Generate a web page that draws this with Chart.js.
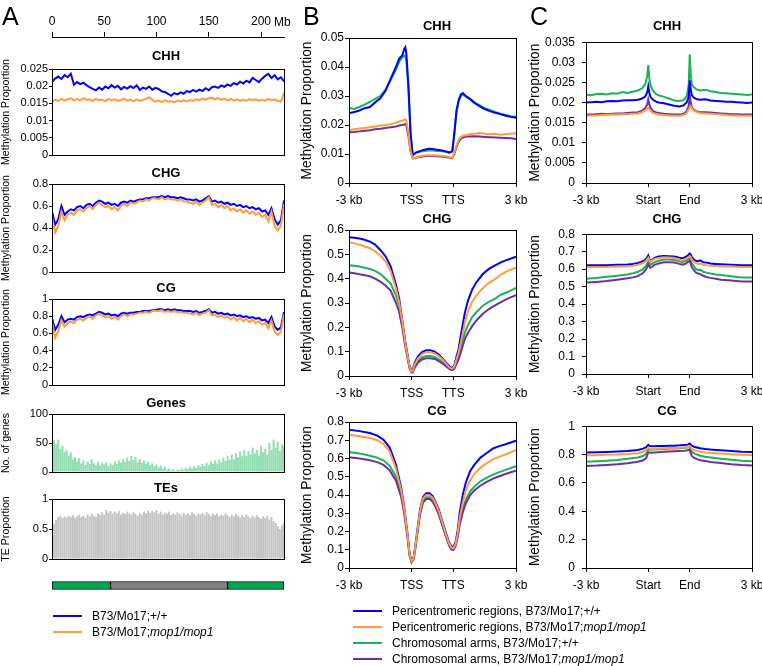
<!DOCTYPE html>
<html>
<head>
<meta charset="utf-8">
<title>DNA methylation profiles</title>
<script src="https://cdn.jsdelivr.net/npm/chart.js@4.4.1/dist/chart.umd.min.js"></script>
<style>
  html, body { margin: 0; padding: 0; background: #fff; }
  #fig { position: relative; width: 762px; height: 666px; overflow: hidden; font-family: "Liberation Sans", Arial, Helvetica, sans-serif; color: #000; }
  #fig canvas { position: absolute; }
  .panel { position: absolute; font-size: 25px; line-height: 25px; z-index: 2; }
  .ttl { position: absolute; font-size: 13px; font-weight: bold; line-height: 15px; white-space: nowrap; transform: translate(-50%, -50%); z-index: 2; }
  .unit { position: absolute; font-size: 12px; line-height: 14px; z-index: 2; }
  .leg { position: absolute; font-size: 12px; line-height: 14px; white-space: nowrap; z-index: 2; }
  .sw { position: absolute; width: 29px; height: 2px; z-index: 2; }
</style>
</head>
<body>
<div id="fig">
  <div class="panel" style="left:2px;top:4px">A</div>
  <div class="panel" style="left:303px;top:4px">B</div>
  <div class="panel" style="left:530px;top:4px">C</div>
  <div class="unit" style="left:274px;top:15px">Mb</div>

  <div class="ttl" style="left:166px;top:55px">CHH</div>
  <div class="ttl" style="left:166px;top:172px">CHG</div>
  <div class="ttl" style="left:166px;top:287px">CG</div>
  <div class="ttl" style="left:166px;top:402px">Genes</div>
  <div class="ttl" style="left:166px;top:487px">TEs</div>

  <div class="ttl" style="left:437px;top:25px">CHH</div>
  <div class="ttl" style="left:437px;top:218px">CHG</div>
  <div class="ttl" style="left:437px;top:410px">CG</div>

  <div class="ttl" style="left:667px;top:25px">CHH</div>
  <div class="ttl" style="left:667px;top:218px">CHG</div>
  <div class="ttl" style="left:667px;top:410px">CG</div>

  <div class="sw" style="left:53px;top:615px;background:#0000ff"></div>
  <div class="leg" style="left:92px;top:609px">B73/Mo17;+/+</div>
  <div class="sw" style="left:53px;top:631px;background:#ff9d3c"></div>
  <div class="leg" style="left:92px;top:625px">B73/Mo17;<i>mop1/mop1</i></div>

  <div class="sw" style="left:353px;top:610px;background:#0000ff"></div>
  <div class="leg" style="left:392px;top:604px">Pericentromeric regions, B73/Mo17;+/+</div>
  <div class="sw" style="left:353px;top:626px;background:#ff9d3c"></div>
  <div class="leg" style="left:392px;top:620px">Pericentromeric regions, B73/Mo17;<i>mop1/mop1</i></div>
  <div class="sw" style="left:353px;top:642px;background:#1db259"></div>
  <div class="leg" style="left:392px;top:636px">Chromosomal arms, B73/Mo17;+/+</div>
  <div class="sw" style="left:353px;top:658px;background:#7030a0"></div>
  <div class="leg" style="left:392px;top:652px">Chromosomal arms, B73/Mo17;<i>mop1/mop1</i></div>
</div>
<script>
// ---- panel A: chromosome position (Mb) ----
const mbTicks = [0, 50, 100, 150, 200];
const mbLabels = ['0', '50', '100', '150', '200'];

const posLine = [0,3,6,9,12,15,18,21,24,27,30,33,36,39,42,45,48,51,54,57,60,63,66,69,72,75,78,81,84,87,90,93,96,99,102,105,108,111,114,117,120,123,126,129,132,135,138,141,144,147,150,153,156,159,162,165,168,171,174,177,180,183,186,189,192,195,198,201,204,207,210,213,216,219,222];
const posBin = [0,2,4,6,8,10,12,14,16,18,20,22,24,26,28,30,32,34,36,38,40,42,44,46,48,50,52,54,56,58,60,62,64,66,68,70,72,74,76,78,80,82,84,86,88,90,92,94,96,98,100,102,104,106,108,110,112,114,116,118,120,122,124,126,128,130,132,134,136,138,140,142,144,146,148,150,152,154,156,158,160,162,164,166,168,170,172,174,176,178,180,182,184,186,188,190,192,194,196,198,200,202,204,206,208,210,212,214,216,218,220,222];

const aChhWt = [0.0212,0.0222,0.0228,0.0221,0.0232,0.0226,0.0236,0.0204,0.0212,0.0206,
  0.0210,0.0203,0.0197,0.0192,0.0188,0.0196,0.0190,0.0199,0.0194,0.0203,
  0.0196,0.0201,0.0191,0.0198,0.0193,0.0200,0.0195,0.0203,0.0189,0.0196,
  0.0192,0.0199,0.0190,0.0195,0.0192,0.0185,0.0183,0.0178,0.0172,0.0180,
  0.0176,0.0182,0.0178,0.0186,0.0183,0.0189,0.0184,0.0190,0.0186,0.0194,
  0.0188,0.0197,0.0199,0.0195,0.0202,0.0198,0.0205,0.0201,0.0209,0.0205,
  0.0213,0.0208,0.0216,0.0211,0.0224,0.0218,0.0212,0.0222,0.0230,0.0236,
  0.0224,0.0232,0.0220,0.0226,0.0214];
const aChhMop = [0.0155,0.0160,0.0157,0.0163,0.0158,0.0162,0.0165,0.0159,0.0163,0.0158,
  0.0165,0.0160,0.0162,0.0157,0.0164,0.0159,0.0161,0.0156,0.0163,0.0159,
  0.0162,0.0157,0.0160,0.0164,0.0158,0.0161,0.0156,0.0162,0.0158,0.0160,
  0.0163,0.0168,0.0160,0.0155,0.0158,0.0154,0.0159,0.0155,0.0157,0.0153,
  0.0158,0.0155,0.0159,0.0156,0.0160,0.0157,0.0162,0.0159,0.0164,0.0161,
  0.0165,0.0167,0.0162,0.0166,0.0160,0.0164,0.0159,0.0163,0.0158,0.0162,
  0.0157,0.0161,0.0158,0.0163,0.0159,0.0162,0.0157,0.0161,0.0158,0.0163,
  0.0159,0.0162,0.0157,0.0155,0.0180];
const aChgWt = [0.55,0.43,0.48,0.60,0.52,0.55,0.57,0.56,0.59,0.60,
  0.58,0.61,0.62,0.60,0.63,0.65,0.64,0.62,0.63,0.61,
  0.62,0.60,0.63,0.64,0.63,0.65,0.64,0.65,0.66,0.66,
  0.67,0.67,0.68,0.68,0.68,0.69,0.68,0.69,0.68,0.68,
  0.67,0.68,0.67,0.66,0.66,0.65,0.66,0.64,0.65,0.67,
  0.69,0.64,0.65,0.63,0.64,0.62,0.63,0.61,0.62,0.60,
  0.61,0.59,0.60,0.58,0.59,0.57,0.58,0.55,0.56,0.52,
  0.58,0.48,0.43,0.47,0.65];
const aChgMop = [0.50,0.36,0.42,0.55,0.47,0.52,0.54,0.52,0.56,0.57,
  0.55,0.58,0.60,0.57,0.61,0.63,0.61,0.59,0.60,0.57,
  0.59,0.56,0.60,0.62,0.60,0.63,0.62,0.63,0.65,0.64,
  0.66,0.65,0.67,0.67,0.66,0.68,0.66,0.67,0.66,0.66,
  0.65,0.66,0.64,0.64,0.63,0.62,0.64,0.61,0.63,0.65,
  0.68,0.61,0.62,0.59,0.61,0.58,0.60,0.56,0.58,0.55,
  0.57,0.54,0.56,0.53,0.55,0.52,0.54,0.50,0.52,0.46,
  0.55,0.42,0.38,0.42,0.62];
const aCgWt = [0.78,0.64,0.70,0.80,0.73,0.76,0.77,0.76,0.79,0.80,
  0.79,0.81,0.82,0.81,0.83,0.85,0.84,0.82,0.83,0.81,
  0.82,0.80,0.83,0.84,0.83,0.84,0.84,0.85,0.85,0.86,
  0.86,0.86,0.87,0.87,0.88,0.88,0.87,0.88,0.87,0.88,
  0.87,0.87,0.86,0.86,0.86,0.85,0.86,0.84,0.85,0.86,
  0.88,0.84,0.85,0.83,0.84,0.82,0.83,0.81,0.82,0.80,
  0.81,0.79,0.80,0.78,0.79,0.77,0.78,0.75,0.76,0.72,
  0.79,0.68,0.64,0.67,0.85];
const aCgMop = [0.73,0.55,0.63,0.75,0.68,0.72,0.74,0.72,0.76,0.77,
  0.75,0.78,0.80,0.77,0.81,0.83,0.81,0.79,0.80,0.77,
  0.79,0.76,0.80,0.82,0.80,0.82,0.82,0.83,0.84,0.84,
  0.85,0.84,0.86,0.86,0.86,0.87,0.85,0.86,0.85,0.86,
  0.85,0.85,0.84,0.84,0.83,0.82,0.84,0.81,0.83,0.84,
  0.87,0.81,0.82,0.79,0.81,0.78,0.80,0.76,0.79,0.75,
  0.78,0.74,0.77,0.73,0.76,0.72,0.74,0.70,0.72,0.66,
  0.75,0.62,0.58,0.62,0.82];
const geneCounts = [85,55,48,56,40,45,35,38,28,34,
  22,26,18,24,15,20,12,18,14,22,
  15,12,18,11,16,13,17,10,15,12,
  18,14,20,16,22,18,25,19,28,21,
  26,17,23,16,20,14,18,12,15,10,
  13,8,11,6,9,4,6,3,5,2,
  4,3,6,4,7,5,9,6,10,7,
  12,9,14,10,16,12,18,14,20,15,
  22,17,25,19,28,21,30,22,32,25,
  35,27,38,28,36,30,42,32,38,28,
  45,34,40,30,50,38,56,42,52,36,
  48,44];
const teProportion = [0.50,0.58,0.65,0.70,0.72,0.68,0.71,0.69,0.72,0.70,
  0.73,0.68,0.71,0.74,0.70,0.72,0.69,0.74,0.71,0.75,
  0.72,0.70,0.76,0.73,0.78,0.74,0.82,0.77,0.80,0.75,
  0.79,0.76,0.80,0.74,0.77,0.75,0.79,0.76,0.74,0.78,
  0.75,0.72,0.77,0.74,0.79,0.76,0.81,0.77,0.80,0.78,
  0.82,0.76,0.79,0.74,0.77,0.75,0.79,0.73,0.76,0.74,
  0.78,0.75,0.72,0.77,0.74,0.76,0.73,0.78,0.75,0.72,
  0.76,0.74,0.77,0.73,0.78,0.75,0.72,0.76,0.73,0.75,
  0.71,0.74,0.72,0.76,0.73,0.70,0.74,0.71,0.75,0.72,
  0.69,0.73,0.70,0.74,0.71,0.68,0.72,0.69,0.73,0.70,
  0.67,0.71,0.68,0.72,0.66,0.70,0.63,0.60,0.55,0.50,
  0.56,0.60];
const chromSegments = [[0, 56], [56, 168], [168, 222]];
const chromColors = ['#00a651', '#808080', '#00a651'];

// ---- panels B and C: 3 kb flank (60 bins) + body (40 bins) + 3 kb flank (60 bins) ----
const profileTicks = [0, 60, 100, 160];
const geneLabels = ['-3 kb', 'TSS', 'TTS', '3 kb'];
const teLabels = ['-3 kb', 'Start', 'End', '3 kb'];

const posBChh = [0,5,10,15,20,25,30,35,40,45,48,51,53,54,55,57,59,61,64,68,72,76,80,84,88,92,96,99,101,103,105,107,109,112,116,120,125,130,135,140,145,150,155,160];
const bChhPeriWt = [0.0240,0.0245,0.0250,0.0258,0.0262,0.0278,0.0292,0.0318,0.0360,0.0400,
  0.0428,0.0440,0.0462,0.0468,0.0445,0.0330,0.0170,0.0095,
  0.0105,0.0110,0.0115,0.0118,0.0117,0.0115,0.0113,0.0110,0.0105,0.0110,
  0.0175,0.0250,0.0285,0.0305,0.0310,0.0300,0.0290,0.0278,
  0.0265,0.0255,0.0248,0.0242,0.0238,0.0232,0.0228,0.0225];
const bChhPeriMop = [0.0182,0.0185,0.0188,0.0190,0.0192,0.0195,0.0198,0.0200,0.0203,0.0208,
  0.0212,0.0215,0.0218,0.0220,0.0215,0.0170,0.0110,0.0085,
  0.0088,0.0092,0.0095,0.0096,0.0096,0.0095,0.0094,0.0092,0.0090,0.0087,
  0.0105,0.0130,0.0148,0.0158,0.0163,0.0165,0.0168,0.0170,
  0.0172,0.0170,0.0168,0.0170,0.0166,0.0168,0.0170,0.0172];
const bChhArmWt = [0.0260,0.0255,0.0262,0.0270,0.0280,0.0290,0.0300,0.0322,0.0355,0.0392,
  0.0418,0.0432,0.0440,0.0438,0.0420,0.0320,0.0165,0.0098,
  0.0103,0.0108,0.0110,0.0112,0.0112,0.0110,0.0110,0.0108,0.0105,0.0108,
  0.0170,0.0245,0.0280,0.0298,0.0305,0.0298,0.0288,0.0275,
  0.0268,0.0258,0.0252,0.0245,0.0238,0.0235,0.0230,0.0228];
const bChhArmMop = [0.0175,0.0176,0.0178,0.0180,0.0182,0.0185,0.0187,0.0190,0.0192,0.0195,
  0.0198,0.0200,0.0202,0.0203,0.0198,0.0160,0.0108,0.0085,
  0.0087,0.0090,0.0092,0.0093,0.0093,0.0092,0.0091,0.0090,0.0088,0.0086,
  0.0100,0.0125,0.0142,0.0152,0.0157,0.0160,0.0160,0.0161,
  0.0160,0.0159,0.0158,0.0157,0.0156,0.0155,0.0154,0.0152];

const posBChg = [0,5,10,15,20,25,30,35,40,45,48,51,54,56,58,60,61,63,66,70,74,78,82,86,90,94,97,99,101,103,105,108,111,114,118,122,128,134,140,146,152,160];
const bChgPeriWt = [0.570,0.568,0.565,0.560,0.552,0.540,0.518,0.492,0.450,0.375,
  0.320,0.230,0.140,0.090,0.040,0.024,0.025,0.055,0.080,
  0.098,0.106,0.106,0.100,0.088,0.070,0.050,0.036,0.033,
  0.045,0.080,0.110,0.188,0.260,0.310,0.355,0.385,
  0.418,0.440,0.455,0.468,0.478,0.490];
const bChgPeriMop = [0.550,0.545,0.540,0.532,0.525,0.512,0.495,0.470,0.430,0.360,
  0.305,0.225,0.135,0.085,0.038,0.018,0.020,0.048,0.072,
  0.090,0.098,0.098,0.093,0.082,0.066,0.046,0.032,0.030,
  0.040,0.070,0.095,0.155,0.220,0.265,0.305,0.330,
  0.360,0.383,0.398,0.418,0.432,0.445];
const bChgArmWt = [0.455,0.453,0.450,0.445,0.440,0.432,0.420,0.400,0.380,0.330,
  0.290,0.215,0.130,0.082,0.035,0.018,0.019,0.040,0.062,
  0.076,0.082,0.082,0.078,0.068,0.055,0.040,0.029,0.027,
  0.035,0.060,0.082,0.130,0.178,0.210,0.242,0.262,
  0.288,0.305,0.318,0.335,0.345,0.362];
const bChgArmMop = [0.425,0.422,0.418,0.414,0.410,0.400,0.388,0.372,0.350,0.300,
  0.265,0.200,0.120,0.076,0.032,0.014,0.015,0.035,0.055,
  0.068,0.073,0.073,0.070,0.061,0.050,0.036,0.026,0.024,
  0.030,0.050,0.068,0.110,0.152,0.178,0.205,0.228,
  0.255,0.275,0.290,0.305,0.318,0.332];

const posBCg = [0,10,20,27,33,39,45,50,53,56,58,60,62,64,68,71,74,77,80,83,86,90,93,96,98,100,102,104,106,109,112,116,120,126,132,138,144,150,155,160];
const bCgPeriWt = [0.758,0.750,0.740,0.725,0.703,0.660,0.565,0.440,0.330,0.190,
  0.080,0.040,0.060,0.140,0.320,0.390,0.410,0.410,0.395,0.360,
  0.320,0.245,0.190,0.140,0.118,0.115,0.140,0.200,0.300,0.400,
  0.470,0.530,0.565,0.605,0.630,0.655,0.668,0.678,0.688,0.698];
const bCgPeriMop = [0.730,0.722,0.712,0.700,0.680,0.638,0.545,0.425,0.320,0.185,
  0.075,0.036,0.055,0.135,0.312,0.382,0.400,0.400,0.386,0.352,
  0.312,0.238,0.182,0.133,0.112,0.108,0.130,0.185,0.270,0.360,
  0.425,0.480,0.515,0.550,0.575,0.595,0.610,0.622,0.635,0.645];
const bCgArmWt = [0.635,0.628,0.615,0.605,0.590,0.560,0.500,0.405,0.305,0.178,
  0.072,0.035,0.053,0.130,0.300,0.370,0.388,0.388,0.375,0.342,
  0.302,0.230,0.176,0.128,0.108,0.105,0.125,0.175,0.250,0.325,
  0.375,0.420,0.445,0.475,0.495,0.512,0.525,0.538,0.548,0.558];
const bCgArmMop = [0.607,0.600,0.590,0.580,0.565,0.535,0.478,0.388,0.295,0.170,
  0.068,0.030,0.048,0.125,0.292,0.360,0.378,0.378,0.365,0.333,
  0.293,0.222,0.170,0.122,0.102,0.098,0.118,0.165,0.235,0.305,
  0.355,0.398,0.425,0.452,0.472,0.490,0.503,0.515,0.525,0.533];

const posCChh = [0,5,10,15,20,25,30,35,40,45,50,54,57,59,60,61,62,64,67,70,75,80,85,90,94,97,99,100,101,102,104,107,110,115,120,125,130,135,140,145,150,155,160];
const cChhPeriWt = [0.0200,0.0201,0.0202,0.0201,0.0203,0.0204,0.0203,0.0205,0.0206,0.0206,
  0.0207,0.0210,0.0215,0.0225,0.0240,0.0225,0.0215,0.0208,0.0203,0.0200,
  0.0198,0.0195,0.0192,0.0190,0.0193,0.0200,0.0215,0.0255,0.0232,0.0218,
  0.0212,0.0208,0.0207,0.0208,0.0205,0.0204,0.0203,0.0202,0.0202,0.0201,
  0.0200,0.0199,0.0200];
const cChhPeriMop = [0.0167,0.0168,0.0168,0.0169,0.0169,0.0170,0.0170,0.0171,0.0171,0.0172,
  0.0173,0.0176,0.0180,0.0184,0.0187,0.0184,0.0180,0.0175,0.0172,0.0170,
  0.0169,0.0168,0.0167,0.0167,0.0169,0.0174,0.0183,0.0189,0.0190,0.0185,
  0.0180,0.0176,0.0174,0.0173,0.0172,0.0171,0.0170,0.0169,0.0168,0.0168,
  0.0167,0.0167,0.0167];
const cChhArmWt = [0.0220,0.0218,0.0221,0.0222,0.0220,0.0223,0.0222,0.0226,0.0224,0.0227,
  0.0230,0.0235,0.0245,0.0265,0.0293,0.0262,0.0245,0.0232,0.0222,0.0218,
  0.0214,0.0210,0.0205,0.0204,0.0206,0.0215,0.0245,0.0320,0.0270,0.0245,
  0.0238,0.0232,0.0230,0.0232,0.0228,0.0226,0.0224,0.0223,0.0222,0.0221,
  0.0220,0.0219,0.0220];
const cChhArmMop = [0.0170,0.0170,0.0171,0.0172,0.0171,0.0172,0.0173,0.0173,0.0174,0.0175,
  0.0176,0.0180,0.0186,0.0195,0.0208,0.0196,0.0188,0.0180,0.0176,0.0174,
  0.0172,0.0171,0.0170,0.0170,0.0172,0.0178,0.0192,0.0218,0.0200,0.0188,
  0.0182,0.0178,0.0176,0.0176,0.0175,0.0174,0.0173,0.0172,0.0171,0.0171,
  0.0170,0.0170,0.0170];

const posCChg = [0,10,20,30,40,45,50,55,58,60,61,62,64,66,70,75,80,85,90,93,96,98,100,101,102,104,106,108,110,113,116,120,125,130,140,150,160];
const cChgPeriWt = [0.622,0.622,0.623,0.625,0.627,0.630,0.635,0.645,0.658,0.678,
  0.660,0.645,0.655,0.665,0.672,0.675,0.674,0.672,0.665,0.662,
  0.670,0.678,0.690,0.682,0.668,0.655,0.648,0.645,0.650,0.640,
  0.638,0.632,0.630,0.628,0.625,0.622,0.622];
const cChgPeriMop = [0.612,0.612,0.613,0.615,0.617,0.620,0.625,0.635,0.648,0.665,
  0.652,0.640,0.650,0.658,0.664,0.668,0.667,0.664,0.655,0.650,
  0.658,0.665,0.675,0.668,0.655,0.642,0.635,0.630,0.632,0.625,
  0.623,0.620,0.618,0.617,0.615,0.612,0.612];
const cChgArmWt = [0.545,0.550,0.556,0.562,0.570,0.576,0.585,0.600,0.620,0.645,
  0.632,0.625,0.632,0.640,0.648,0.655,0.655,0.652,0.645,0.640,
  0.648,0.655,0.662,0.648,0.632,0.618,0.600,0.595,0.597,0.585,
  0.580,0.575,0.570,0.566,0.560,0.552,0.552];
const cChgArmMop = [0.523,0.527,0.532,0.540,0.548,0.553,0.560,0.578,0.600,0.628,
  0.615,0.608,0.615,0.625,0.632,0.640,0.640,0.638,0.630,0.625,
  0.632,0.640,0.648,0.630,0.610,0.595,0.580,0.575,0.572,0.562,
  0.555,0.550,0.545,0.540,0.535,0.530,0.530];

const posCCg = [0,10,20,30,40,50,55,58,60,61,62,66,70,75,80,85,90,95,98,100,101,102,104,107,110,115,120,125,130,140,150,160];
const cCgPeriWt = [0.815,0.816,0.818,0.821,0.825,0.832,0.842,0.852,0.868,0.862,
  0.858,0.859,0.860,0.861,0.862,0.863,0.865,0.868,0.870,0.878,
  0.870,0.862,0.855,0.850,0.845,0.840,0.836,0.833,0.830,0.825,
  0.820,0.818];
const cCgPeriMop = [0.795,0.796,0.798,0.800,0.804,0.810,0.820,0.832,0.850,0.843,
  0.838,0.840,0.842,0.844,0.845,0.846,0.848,0.851,0.854,0.860,
  0.850,0.840,0.832,0.826,0.820,0.815,0.812,0.810,0.807,0.802,
  0.799,0.797];
const cCgArmWt = [0.750,0.753,0.757,0.762,0.770,0.780,0.790,0.805,0.838,0.836,
  0.834,0.836,0.838,0.840,0.842,0.843,0.845,0.848,0.850,0.855,
  0.835,0.820,0.810,0.800,0.792,0.785,0.780,0.775,0.770,0.763,
  0.756,0.752];
const cCgArmMop = [0.720,0.722,0.726,0.731,0.739,0.750,0.760,0.775,0.815,0.814,
  0.813,0.815,0.817,0.819,0.821,0.823,0.825,0.827,0.830,0.835,
  0.810,0.790,0.778,0.768,0.760,0.754,0.748,0.744,0.740,0.732,
  0.726,0.722];

const BLUE = '#0000ff', ORANGE = '#ff9d3c', GREEN = '#1db259', PURPLE = '#7030a0';
const GENE_FILL = 'rgba(70,200,125,0.6)', TE_FILL = '#c4c4c4';

Chart.defaults.font.family = '"Liberation Sans", Arial, Helvetica, sans-serif';
Chart.defaults.color = '#000';

const fig = document.getElementById('fig');

// closes the box around each plot area (top and right edges)
const boxFrame = {
    id: 'boxFrame',
    afterDraw(chart) {
        const a = chart.chartArea, ctx = chart.ctx;
        ctx.save();
        ctx.strokeStyle = '#000';
        ctx.lineWidth = 1;
        ctx.strokeRect(Math.round(a.left) + 0.5, Math.round(a.top) + 0.5,
            Math.round(a.right - a.left), Math.round(a.bottom - a.top));
        ctx.restore();
    },
};

function pts(xs, ys) {
    return xs.map((x, i) => ({ x: x, y: ys[i] }));
}

function line(xs, ys, color) {
    return { type: 'line', data: pts(xs, ys), borderColor: color, borderWidth: 2,
        pointRadius: 0, fill: false, tension: 0 };
}

function bars(xs, ys, color) {
    return { type: 'bar', data: pts(xs, ys), backgroundColor: color, borderWidth: 0,
        barPercentage: 0.95, categoryPercentage: 1 };
}

function addCanvas(left, top, w, h) {
    const c = document.createElement('canvas');
    c.width = w;
    c.height = h;
    c.style.left = left + 'px';
    c.style.top = top + 'px';
    c.style.width = w + 'px';
    c.style.height = h + 'px';
    fig.appendChild(c);
    return c;
}

function plot(p) {
    const [l, t, r, b] = p.box;
    const c = addCanvas(l - p.padL, t - p.padT, r - l + p.padL + p.padR, b - t + p.padT + p.padB);
    const hasX = !!p.xTicks;
    new Chart(c, {
        type: 'line',
        data: { datasets: p.datasets },
        options: {
            responsive: false,
            animation: false,
            events: [],
            layout: { padding: { left: 0, top: p.padT, right: p.padR, bottom: 0 } },
            plugins: { legend: { display: false }, tooltip: { enabled: false } },
            scales: {
                x: {
                    type: 'linear', min: p.xMin, max: p.xMax, offset: false,
                    afterFit: (s) => { s.height = p.padB; },
                    afterBuildTicks: (s) => { if (hasX) s.ticks = p.xTicks.map(v => ({ value: v })); },
                    ticks: {
                        display: hasX, autoSkip: false, maxRotation: 0, padding: 6,
                        font: { size: p.tickSize },
                        callback: (v, i) => (hasX ? p.xLabels[i] : ''),
                    },
                    grid: { drawOnChartArea: false, drawTicks: hasX, tickLength: 4, color: '#000' },
                    border: { color: '#000', width: 1 },
                },
                y: {
                    min: 0, max: p.yMax,
                    afterFit: (s) => { s.width = p.padL; },
                    ticks: {
                        stepSize: p.yStep, autoSkip: false, padding: p.tickPad,
                        font: { size: p.tickSize },
                        callback: (v) => String(+v.toFixed(4)),
                    },
                    grid: { drawOnChartArea: false, tickLength: p.tickLen, color: '#000' },
                    border: { color: '#000', width: 1 },
                    title: { display: true, text: p.yTitle, font: { size: p.titleSize }, padding: 0 },
                },
            },
        },
        plugins: [boxFrame],
    });
}

const colA = { padL: 52, padR: 4, padT: 16, padB: 16, tickSize: 11, titleSize: 10.6,
    tickLen: 3, tickPad: 1, xMin: 0, xMax: 222 };
const colB = { padL: 50, padR: 22, padT: 10, padB: 30, tickSize: 12, titleSize: 13.8,
    tickLen: 4, tickPad: 1, xMin: 0, xMax: 160, xTicks: profileTicks, xLabels: geneLabels };
const colC = Object.assign({}, colB, { padL: 59, tickPad: 7, xLabels: teLabels });

// panel A: top ruler
new Chart(addCanvas(0, 0, 300, 42), {
    type: 'line',
    data: { datasets: [] },
    options: {
        responsive: false, animation: false, events: [],
        layout: { padding: { left: 52, right: 16, top: 0, bottom: 0 } },
        plugins: { legend: { display: false }, tooltip: { enabled: false } },
        scales: {
            x: {
                type: 'linear', position: 'top', min: 0, max: 222,
                afterFit: (s) => { s.height = 37; },
                afterBuildTicks: (s) => { s.ticks = mbTicks.map(v => ({ value: v })); },
                ticks: { autoSkip: false, maxRotation: 0, padding: 3, font: { size: 12 },
                    callback: (v, i) => mbLabels[i] },
                grid: { drawOnChartArea: false, tickLength: 5, color: '#000' },
                border: { color: '#000' },
            },
            y: { display: false },
        },
    },
});

plot(Object.assign({}, colA, { box: [52, 69, 284, 155], yMax: 0.025, yStep: 0.005,
    yTitle: 'Methylation Proportion',
    datasets: [line(posLine, aChhMop, ORANGE), line(posLine, aChhWt, BLUE)] }));
plot(Object.assign({}, colA, { box: [52, 184, 284, 272], yMax: 0.8, yStep: 0.2,
    yTitle: 'Methylation Proportion',
    datasets: [line(posLine, aChgMop, ORANGE), line(posLine, aChgWt, BLUE)] }));
plot(Object.assign({}, colA, { box: [52, 299, 284, 385], yMax: 1, yStep: 0.2,
    yTitle: 'Methylation Proportion',
    datasets: [line(posLine, aCgMop, ORANGE), line(posLine, aCgWt, BLUE)] }));
plot(Object.assign({}, colA, { box: [52, 414, 284, 472], yMax: 100, yStep: 50,
    yTitle: 'No. of genes', datasets: [bars(posBin, geneCounts, GENE_FILL)] }));
plot(Object.assign({}, colA, { box: [52, 499, 284, 559], yMax: 1, yStep: 0.5,
    yTitle: 'TE Proportion', datasets: [bars(posBin, teProportion, TE_FILL)] }));

// panel A: chromosome schematic (arms green, pericentromere grey)
new Chart(addCanvas(0, 575, 300, 21), {
    type: 'bar',
    data: {
        labels: ['chromosome'],
        datasets: chromSegments.map((s, i) => ({ data: [s], backgroundColor: chromColors[i],
            borderColor: '#000', borderWidth: 1, borderSkipped: false, grouped: false, barThickness: 8 })),
    },
    options: {
        indexAxis: 'y', responsive: false, animation: false, events: [],
        layout: { padding: { left: 52, right: 16, top: 0, bottom: 0 } },
        plugins: { legend: { display: false }, tooltip: { enabled: false } },
        scales: { x: { type: 'linear', min: 0, max: 222, display: false }, y: { display: false } },
    },
});

function four(xs, periWt, periMop, armWt, armMop) {
    return [line(xs, periMop, ORANGE), line(xs, periWt, BLUE), line(xs, armMop, PURPLE), line(xs, armWt, GREEN)];
}

// panel B: genes
plot(Object.assign({}, colB, { box: [349, 38, 516, 183], yMax: 0.05, yStep: 0.01,
    yTitle: 'Methylation Proportion', datasets: four(posBChh, bChhPeriWt, bChhPeriMop, bChhArmWt, bChhArmMop) }));
plot(Object.assign({}, colB, { box: [349, 230, 516, 376], yMax: 0.6, yStep: 0.1,
    yTitle: 'Methylation Proportion', datasets: four(posBChg, bChgPeriWt, bChgPeriMop, bChgArmWt, bChgArmMop) }));
plot(Object.assign({}, colB, { box: [349, 422, 516, 568], yMax: 0.8, yStep: 0.1,
    yTitle: 'Methylation Proportion', datasets: four(posBCg, bCgPeriWt, bCgPeriMop, bCgArmWt, bCgArmMop) }));

// panel C: TEs
plot(Object.assign({}, colC, { box: [586, 38, 752, 183], yMax: 0.035, yStep: 0.005,
    yTitle: 'Methylation Proportion', datasets: four(posCChh, cChhPeriWt, cChhPeriMop, cChhArmWt, cChhArmMop) }));
plot(Object.assign({}, colC, { box: [586, 230, 752, 374], yMax: 0.8, yStep: 0.1,
    yTitle: 'Methylation Proportion', datasets: four(posCChg, cChgPeriWt, cChgPeriMop, cChgArmWt, cChgArmMop) }));
plot(Object.assign({}, colC, { box: [586, 422, 752, 568], yMax: 1, yStep: 0.2,
    yTitle: 'Methylation Proportion', datasets: four(posCCg, cCgPeriWt, cCgPeriMop, cCgArmWt, cCgArmMop) }));
</script>
</body>
</html>
